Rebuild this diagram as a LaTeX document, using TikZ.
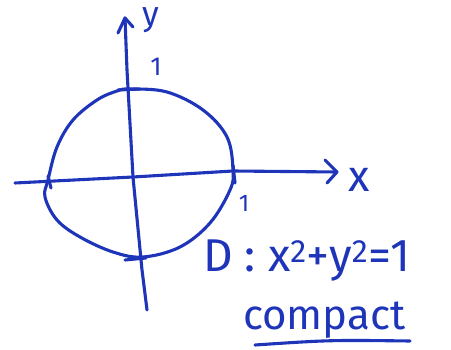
\documentclass[tikz,border=0pt]{standalone}
\usepackage{fontspec}
\setmainfont{Fira Sans}
\definecolor{handblue}{RGB}{30,52,185}
\tikzset{
  pen/.style={draw=handblue, line width=3.1pt, line cap=round, line join=round},
  lbl/.style={text=handblue, inner sep=0pt, outer sep=0pt},
}
\begin{document}
\begin{tikzpicture}[x=1pt,y=-1pt]
\useasboundingbox (0,0) rectangle (451,350);
% axis coordinates
\coordinate (yb) at (147,310);
\coordinate (yt) at (125,18);
\coordinate (xl) at (15,183);
\coordinate (xr) at (337,172);
% y axis
\draw[pen] (yb) -- (142,270) -- (133,177) -- (127,70) -- (yt);
\draw[pen] (118,33) -- (yt) -- (133,27);
% x axis
\draw[pen] (xl) -- (133,177) -- (233,171) -- (xr);
\draw[pen] (325,160) -- (xr) -- (327,183);
% circle
\draw[pen] plot[smooth cycle, tension=0.6] coordinates {
 (130,89) (167,92) (203,110) (227,137) (233,170) (230,190) (210,223)
 (180,247) (143,257) (113,252) (80,237) (57,220) (45,197) (48,180)
 (57,147) (73,120) (97,100) (117,91)};
% ticks
\draw[pen] (118,90) -- (140,89);
\draw[pen] (48,176) -- (51,188);
\draw[pen] (233,165) -- (235,183);
\draw[pen] (125,260) -- (146,258);
% labels
\node[lbl, font=\fontsize{34}{34}\selectfont] (ylab) at (151,20) {y};
\node[lbl, font=\fontsize{26}{26}\selectfont] (one1) at (156,67) {1};
\node[lbl, font=\fontsize{44}{44}\selectfont] (xlab) at (359,180) {x};
\node[lbl, font=\fontsize{24}{24}\selectfont] (one2) at (244,203) {1};
\node[lbl, anchor=base west, font=\fontsize{46}{46}\selectfont] (eq) at (203,272) {D : x\textsuperscript{2}+y\textsuperscript{2}=1};
\node[lbl, anchor=base west, font=\fontsize{42}{42}\selectfont] (cpt) at (243,330) {compact};
\draw[pen] (255,345) .. controls (330,340) .. (410,341);
\end{tikzpicture}
\end{document}
